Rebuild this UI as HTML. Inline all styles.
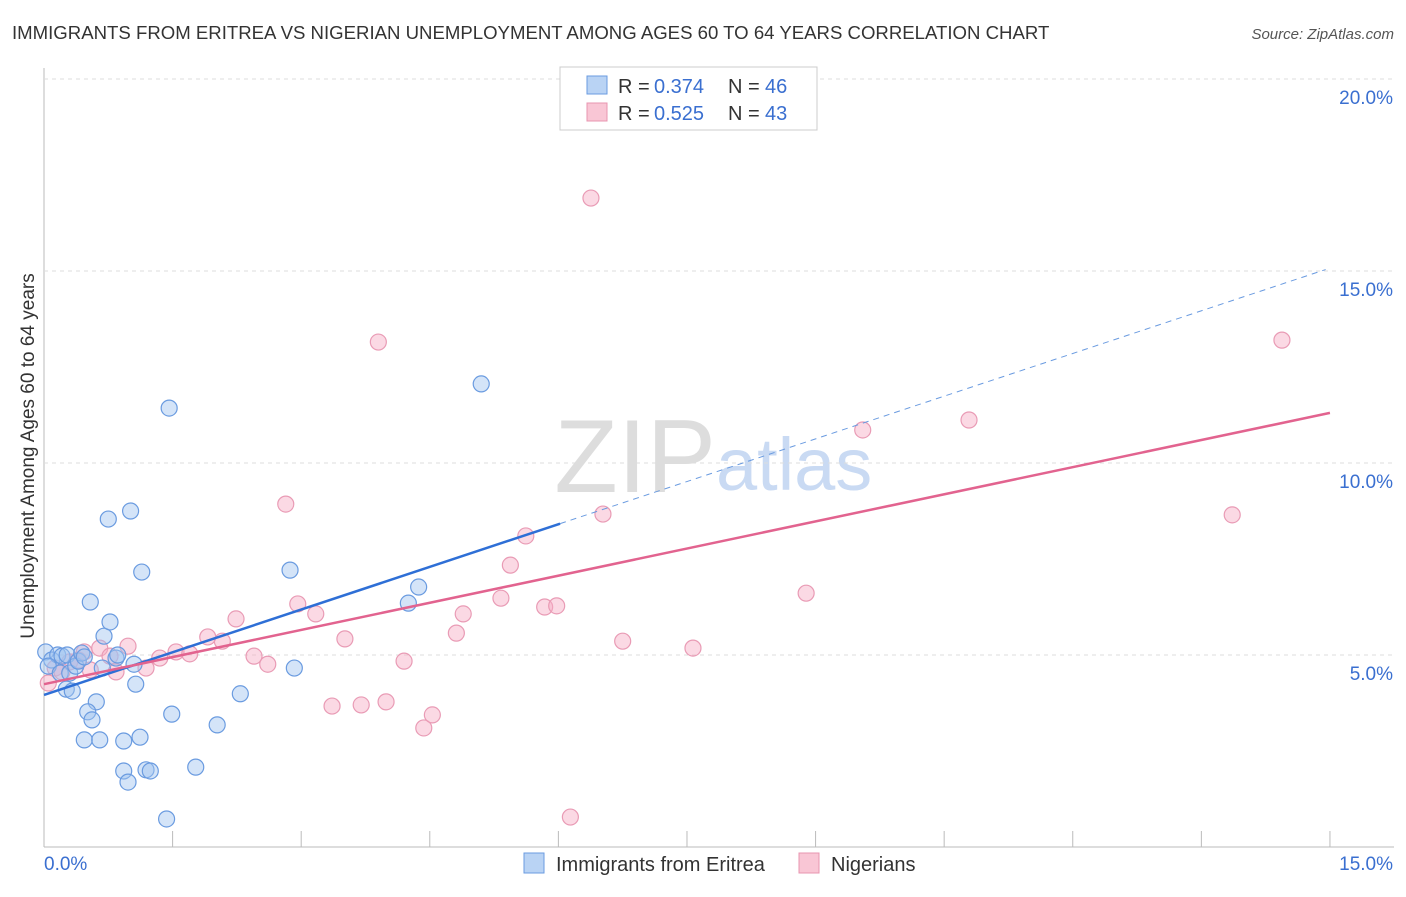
<!DOCTYPE html>
<html><head><meta charset="utf-8"><style>
body{margin:0;background:#fff;font-family:"Liberation Sans",sans-serif}
svg text{font-family:"Liberation Sans",sans-serif}
</style></head><body>
<svg id="c" width="1406" height="892">
<text x="12" y="39" font-size="18.6" fill="#333">IMMIGRANTS FROM ERITREA VS NIGERIAN UNEMPLOYMENT AMONG AGES 60 TO 64 YEARS CORRELATION CHART</text>
<text x="1394" y="39" font-size="15" fill="#555" font-style="italic" text-anchor="end">Source: ZipAtlas.com</text>
<text x="716" y="492" font-size="104" fill="#ddd" font-family="Liberation Serif" text-anchor="end">ZIP</text>
<text x="716" y="490" font-size="74" fill="#c9daf3">atlas</text>
<text transform="translate(34,456) rotate(-90)" font-size="19" fill="#333" text-anchor="middle">Unemployment Among Ages 60 to 64 years</text>
<g id="grid"></g><g id="pts"></g><g id="lines"></g>
<g>
<rect x="560" y="67" width="257" height="63" fill="#fff" stroke="#ccc"/>
<rect x="587" y="76" width="20" height="18" fill="#b9d3f4" stroke="#6a9be0"/>
<rect x="587" y="103" width="20" height="18" fill="#f9c6d5" stroke="#e895b0"/>
<text x="618" y="93" font-size="20" fill="#333">R =</text><text x="654" y="93" font-size="20" fill="#3a6fd0">0.374</text>
<text x="728" y="93" font-size="20" fill="#333">N =</text><text x="765" y="93" font-size="20" fill="#3a6fd0">46</text>
<text x="618" y="120" font-size="20" fill="#333">R =</text><text x="654" y="120" font-size="20" fill="#3a6fd0">0.525</text>
<text x="728" y="120" font-size="20" fill="#333">N =</text><text x="765" y="120" font-size="20" fill="#3a6fd0">43</text>
</g>
<g>
<rect x="524" y="853" width="20" height="20" fill="#b9d3f4" stroke="#6a9be0"/>
<text x="556" y="871" font-size="20" fill="#333">Immigrants from Eritrea</text>
<rect x="799" y="853" width="20" height="20" fill="#f9c6d5" stroke="#e895b0"/>
<text x="831" y="871" font-size="20" fill="#333">Nigerians</text>
</g>
</svg>
<script>
const yTicks=[5,10,15,20];
const yTickLabels=["5.0%","10.0%","15.0%","20.0%"];
const xEnds=[0,15];
const xEndLabels=["0.0%","15.0%"];
const blueX=[0.02,0.09,0.16,0.21,0.27,0.05,0.19,0.26,0.33,0.30,0.37,0.40,0.44,0.47,0.54,0.61,0.51,0.56,0.47,0.65,0.70,0.77,0.68,0.75,0.84,0.86,0.93,0.93,0.98,1.01,1.05,1.07,1.12,1.14,1.19,1.24,1.46,1.49,1.77,1.43,2.02,2.29,2.87,2.92,4.25,4.37,5.10];
const blueY=[5.08,4.87,5.00,4.97,5.00,4.71,4.53,4.11,4.06,4.53,4.71,4.84,5.05,4.95,6.38,3.78,3.52,3.31,2.79,2.79,5.49,5.86,4.66,8.54,4.92,5.00,2.76,1.98,1.69,8.75,4.76,4.24,2.86,7.16,2.01,1.98,11.43,3.46,2.08,0.73,3.18,3.99,7.21,4.66,6.35,6.77,12.06];
const pinkX=[0.05,0.13,0.21,0.30,0.40,0.47,0.54,0.65,0.77,0.84,0.98,1.19,1.35,1.54,1.70,1.91,2.08,2.24,2.45,2.61,2.82,2.96,3.17,3.36,3.51,3.70,3.90,3.99,4.20,4.43,4.53,4.81,4.89,5.33,5.44,5.62,5.84,5.98,6.14,6.38,6.52,6.75,7.57,8.89,9.55,10.79,13.86,14.44];
const pinkY=[4.27,4.66,4.56,4.82,4.87,5.08,4.61,5.18,4.97,4.56,5.23,4.66,4.92,5.08,5.03,5.47,5.36,5.94,4.97,4.76,8.93,6.33,6.07,3.67,5.42,3.70,13.15,3.78,4.84,3.10,3.44,5.57,6.07,6.48,7.34,8.10,6.25,6.28,0.78,16.90,8.67,5.36,5.18,6.61,10.86,11.12,8.65,13.20];
const blueTrend=[3.96,0.741], pinkTrend=[4.24,0.471];
const NS='http://www.w3.org/2000/svg';
const sx=v=>44+v*85.73, sy=v=>847-v*38.4;
function mk(t,a,p){const e=document.createElementNS(NS,t);for(const k in a)e.setAttribute(k,a[k]);p.appendChild(e);return e;}
const g=document.getElementById('grid');
mk('line',{x1:44,y1:68,x2:44,y2:847,stroke:'#bbb'},g);
mk('line',{x1:44,y1:847,x2:1394,y2:847,stroke:'#bbb'},g);
for(let i=0;i<=10;i++){const l=mk('line',{x1:sx(i*1.5),x2:sx(i*1.5),y1:831,y2:847,stroke:'#bbb'},g);

}
mk('line',{x1:44,x2:1394,y1:79,y2:79,stroke:'#ddd','stroke-dasharray':'4,4'},g);
yTicks.forEach((v,i)=>{const l=mk('line',{x1:44,x2:1394,y1:sy(v),y2:sy(v),stroke:'#ddd','stroke-dasharray':'4,4'},g);


const t=mk('text',{x:1393,y:sy(v)+25,'font-size':19,fill:'#3a6fd0','text-anchor':'end'},g);t.textContent=yTickLabels[i];

});
xEnds.forEach((v,i)=>{const t=mk('text',{x:i?1393:44,y:870,'font-size':19,fill:'#3a6fd0','text-anchor':i?'end':'start'},g);t.textContent=xEndLabels[i];

});
const p=document.getElementById('pts');
pinkX.forEach((x,i)=>{const c=mk('circle',{cx:sx(x),cy:sy(pinkY[i]),r:8,fill:'rgba(246,170,195,0.45)',stroke:'#e99bb5','stroke-width':1.2},p);

});
blueX.forEach((x,i)=>{const c=mk('circle',{cx:sx(x),cy:sy(blueY[i]),r:8,fill:'rgba(160,196,240,0.45)',stroke:'#6a9be0','stroke-width':1.2},p);

});
const L=document.getElementById('lines');
const f=(t,x)=>t[0]+t[1]*x;
let a=mk('line',{x1:sx(0),y1:sy(f(blueTrend,0)),x2:sx(6.02),y2:sy(f(blueTrend,6.02)),stroke:'#2e6fd6','stroke-width':2.5},L);


a=mk('line',{x1:sx(6.02),y1:sy(f(blueTrend,6.02)),x2:sx(14.95),y2:sy(f(blueTrend,14.95)),stroke:'#6a9be0','stroke-width':1,'stroke-dasharray':'6,5'},L);


a=mk('line',{x1:sx(0),y1:sy(f(pinkTrend,0)),x2:sx(15),y2:sy(f(pinkTrend,15)),stroke:'#e2638f','stroke-width':2.5},L);


</script>
</body></html>
